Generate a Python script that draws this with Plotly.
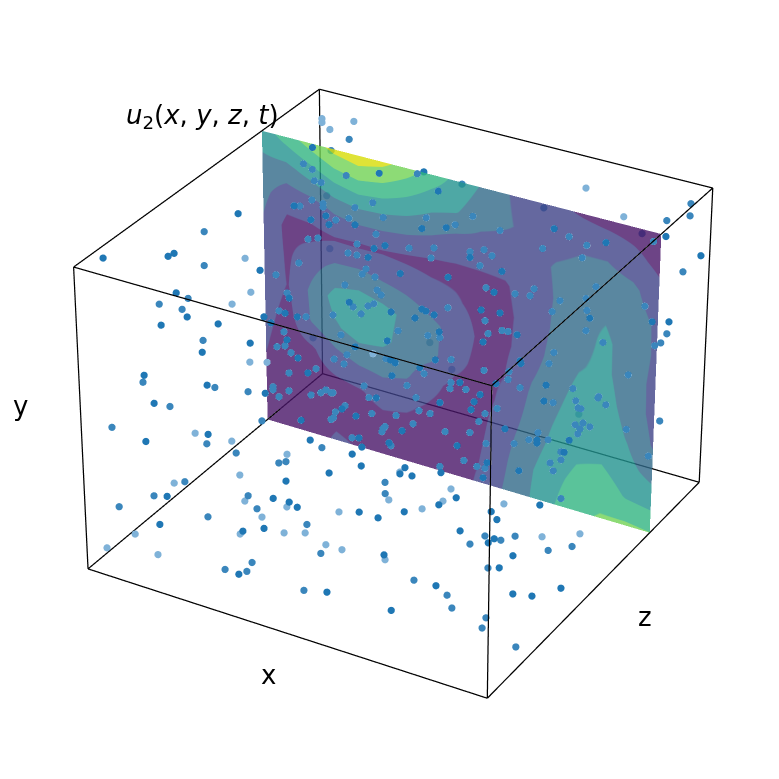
import plotly.graph_objects as go

# Scatter cloud: sample positions in unit coordinates
pt_x = [.020,.118,.120,.080,.130,.117,.056,.272,.082,.189,.139,.118,.136,.228,.070,.175,.279,.161,.345,.368,.385,.030,.030,.051,.138,.102,.114,.137,.142,.160,.065,.147,.199,.140,.164,.164,.268,.254,.288,.209,.185,.186,.096,.209,.199,.227,.369,.243,.383,.413,.275,.308,.267,.424,.269,.109,
.261,.115,.310,.138,.404,.378,.460,.442,.225,.293,.247,.320,.430,.547,.231,.342,.487,.525,.503,.615,.313,.276,.441,.425,.398,.461,.264,.287,.422,.465,.541,.629,.576,.596,.334,.324,.525,.357,.577,.718,.620,.303,.374,.396,.615,.732,.469,.336,.374,.389,.368,.572,.624,.634,.553,.745,
.790,.665,.630,.646,.462,.700,.340,.537,.567,.665,.699,.714,.609,.384,.794,.566,.652,.272,.367,.245,.096,.438,.334,.466,.663,.736,.618,.722,.562,.442,.699,.299,.359,.266,.462,.655,.750,.249,.249,.380,.265,.264,.310,.335,.336,.349,.354,.384,.385,.391,.397,.545,.579,.456,.422,.446,
.617,.465,.519,.542,.561,.526,.569,.510,.505,.514,.691,.589,.770,.649,.629,.627,.817,.666,.865,.851,.844,.714,.710,.699,.880,.748,.733,.892,.750,.823,.718,.750,.905,.770,.896,.670,.671,.548,.450,.598,.605,.490,.397,.593,.615,.195,.329,.323,.548,.453,.455,.721,.709,.738,.796,.568,
.580,.496,.598,.844,.600,.814,.581,.420,.460,.292,.480,.415,.633,.731,.679,.264,.408,.442,.346,.388,.453,.494,.513,.705,.591,.865,.823,.927,.732,.930,.848,.935,.865,.932,.878,.948,.732,.842,.734,.250,.088,.127,.096,.260,.175,.222,.150,.123,.052,.125,.067,.259,.163,.086,.213,.231,
.144,.060,.142,.100,.175,.048,.213,.280,.207,.315,.167,.046,.257,.367,.039,.132,.319,.363,.362,.367,.506,.588,.936,.878,.839,.932,.944,.917,.948,.981,.960,.974,.824,.847,.929,.931,.980,.942,.994,.938,.858,.851,.844,.842,.839,.749,.845,.838,.842,.876,.866,.807,.909,.920,.929,.829,
.840,.834,.842,.873,.807,.792,.791,.905,.905,.776,.916,.711,.816,.968,.967,.940,.901,.968,.987,.988,.965,.659,.748,.785,.828,.874,.721,.818,.853,.723,.687,.724,.850,.787,.972,.789,.853,.931,.962,.974,.951,.937,.852,.874,.999,.853,.806,.805,.893,.895,.938,.767,.903,.834,.868]
pt_y = [.987,.966,.964,.911,.951,.850,.693,.902,.600,.924,.813,.837,.789,.874,.593,.841,.845,.671,.795,.875,.862,.933,.920,.903,.996,.894,.934,.923,.887,.887,.705,.836,.929,.837,.818,.806,.908,.914,.898,.790,.766,.746,.557,.744,.750,.700,.872,.684,.854,.853,.638,.618,.636,.822,.590,.313,
.597,.951,.968,.932,.995,.949,.960,.895,.932,.865,.833,.825,.862,.907,.792,.904,.918,.910,.864,.884,.779,.745,.895,.892,.762,.785,.723,.724,.874,.765,.788,.898,.807,.794,.719,.698,.883,.700,.767,.897,.880,.679,.675,.679,.732,.872,.845,.630,.647,.660,.631,.851,.854,.851,.681,.870,
.877,.863,.853,.672,.609,.847,.576,.621,.625,.649,.672,.674,.823,.360,.837,.827,.817,.555,.532,.282,.339,.756,.505,.556,.812,.823,.597,.819,.542,.288,.592,.472,.498,.485,.717,.768,.594,.458,.448,.646,.424,.430,.414,.431,.428,.423,.425,.398,.387,.395,.411,.632,.622,.574,.461,.444,
.682,.411,.486,.454,.431,.428,.417,.398,.389,.396,.618,.432,.726,.422,.538,.517,.808,.529,.788,.760,.732,.467,.453,.425,.802,.567,.478,.649,.422,.622,.380,.373,.614,.375,.562,.355,.585,.376,.364,.572,.545,.536,.337,.531,.501,.110,.290,.297,.465,.414,.110,.538,.513,.518,.538,.302,
.283,.114,.123,.490,.110,.469,.118,.343,.347,.077,.338,.096,.385,.412,.385,.073,.252,.193,.081,.084,.085,.085,.168,.288,.077,.405,.257,.479,.126,.440,.280,.394,.244,.394,.215,.304,.156,.259,.130,.756,.376,.661,.600,.653,.507,.471,.578,.490,.474,.442,.256,.491,.326,.154,.287,.349,
.100,.136,.230,.207,.278,.191,.153,.210,.091,.194,.194,.053,.069,.240,.075,.047,.090,.103,.087,.109,.084,.143,.362,.234,.071,.120,.125,.144,.300,.087,.193,.147,.160,.142,.145,.127,.039,.261,.270,.339,.330,.354,.331,.358,.312,.223,.400,.400,.439,.385,.418,.446,.651,.459,.450,.288,
.279,.294,.270,.202,.334,.366,.369,.536,.526,.377,.509,.926,.879,.962,.922,.933,.901,.927,.978,.786,.749,.902,.936,.923,.910,.935,.862,.866,.784,.755,.738,.745,.769,.739,.763,.729,.731,.823,.670,.636,.562,.526,.664,.607,.643,.856,.613,.589,.827,.819,.523,.534,.687,.477,.423]
pt_z = [.080,.180,.200,.380,.440,.320,.580,.300,.560,.100,.220,.140,.200,.080,.500,.060,.120,.240,.140,.160,.160,.960,.960,.960,.740,.880,.740,.740,.740,.740,.920,.720,.560,.680,.740,.740,.580,.540,.560,.720,.640,.680,.880,.560,.480,.480,.260,.420,.220,.220,.480,.540,.400,.160,.400,.780,
.380,.960,.740,.900,.745,.820,.740,.880,.740,.740,.740,.740,.740,.740,.740,.580,.620,.660,.740,.740,.720,.700,.540,.520,.720,.720,.680,.680,.500,.700,.740,.580,.740,.740,.640,.640,.460,.640,.720,.560,.500,.600,.620,.600,.680,.500,.340,.580,.580,.580,.560,.340,.380,.380,.620,.420,
.420,.360,.340,.620,.560,.320,.520,.560,.560,.600,.600,.600,.260,.840,.340,.200,.200,.420,.500,.820,.600,.180,.500,.500,.200,.240,.520,.200,.500,.840,.520,.480,.500,.420,.180,.200,.540,.380,.380,.140,.420,.380,.440,.440,.460,.460,.460,.420,.400,.400,.440,.180,.180,.160,.480,.460,
.200,.440,.500,.500,.480,.440,.440,.420,.420,.400,.180,.480,.200,.440,.500,.500,.200,.500,.200,.200,.200,.500,.480,.460,.240,.540,.520,.260,.440,.180,.400,.400,.160,.400,.160,.380,.160,.380,.380,.160,.160,.140,.340,.140,.140,.520,.300,.280,.120,.100,.580,.140,.140,.140,.160,.320,
.300,.460,.560,.140,.520,.120,.460,.100,.100,.360,.100,.380,.100,.120,.100,.300,.080,.200,.260,.280,.260,.260,.140,.080,.280,.120,.240,.140,.560,.160,.260,.140,.300,.120,.220,.140,.160,.060,.060,.100,.540,.060,.100,.100,.260,.320,.060,.160,.040,.060,.340,.100,.240,.460,.280,.360,
.400,.260,.180,.120,.060,.060,.160,.220,.320,.200,.040,.120,.220,.060,.020,.080,.060,.100,.080,.040,.080,.040,.340,.340,.540,.540,.480,.420,.200,.360,.180,.240,.140,.120,.120,.100,.160,.900,.740,.740,.720,.700,.700,.680,.700,.880,.700,.700,.680,.760,.740,.640,.400,.500,.460,.640,
.620,.580,.580,.560,.620,.600,.560,.380,.380,.520,.280,.960,.940,.960,.960,.900,.860,.840,.740,.980,.940,.860,.740,.740,.740,.740,.740,.740,.740,.700,.680,.680,.700,.700,.740,.660,.700,.560,.800,.860,.900,.900,.700,.740,.740,.380,.640,.620,.320,.320,.740,.560,.420,.680,.740]
# depth-shade class of every sample (d = near, m = middle, l = far), same order
pt_shade = ("dddmdmldld" "mmmdlddmdd" "dllldmmmmm" "lmdmmmdddm" "mmlmmmdmdd" "mmmdml"
            "mldmmddmmm" "mmmmmdddmm" "mmddmmmmdm" "mdmmmmdmmd" "dmmmmddmmm" "mdddmd"
            "dddmmdmmmm" "mmdldddmml" "ldmmddmdml" "mmmmddmmmd" "mmmmmmmmmm" "mdddmm"
            "dmmmmmmmmm" "dmdmmmdmdd" "dmmmdmmdmd" "mmdmdmdmmd" "ddmddlmmdd" "lddddm"
            "mlldldlddl" "dldddldmll" "llmdldmdld" "mdmdmdmddd" "ldmdmmdmmd" "ldmlmm"
            "llmmdmmmlm" "dlldllmmmd" "mddmllmmdd" "ddmmmmmmmm" "mmmmmlmmmm" "mmdddm"
            "mmmmmmmddm" "dllmmmmdmd" "mmdmmdmmmm" "mmmmmmmddd" "mmmmmdmmdd" "mmdmm")

# Field sampled on the z = 0.75 plane (rows top to bottom, columns left to right)
levels = [[3.4,4.45,5.4,6.3,6.7,6.3,5.5,4.6,3.7,2.9,2.05,1.6,1.2,.85,.6,.5,.3],
[2.8,2.7,3.4,4.2,4.6,4.4,3.9,3.3,3.05,2.35,2.1,1.75,1.6,1.85,1.8,1.3,.7],
[2.28,1.4,1.6,2.2,2.5,2.45,2.3,2.0,1.6,1.55,1.45,1.6,2.1,2.3,2.4,2.2,1.4],
[1.9,.7,.7,.9,.85,.9,.8,.7,.75,.8,.9,1.4,2.05,2.75,2.85,2.45,1.85],
[1.7,.85,1.6,2.25,2.3,2.0,1.75,1.4,1.1,.7,.8,1.3,2.15,2.65,3.15,2.55,1.85],
[1.5,.95,2.2,3.35,3.6,3.3,2.75,2.2,1.7,.8,.8,1.45,2.35,2.9,3.2,2.45,1.75],
[1.3,.7,2.1,2.85,3.4,3.2,2.6,2.3,1.3,.7,.95,1.9,2.6,3.25,3.4,2.6,1.7],
[1.1,.5,.85,1.7,2.15,2.3,2.1,1.3,.7,.6,1.2,2.15,2.9,3.55,3.6,2.9,1.9],
[.9,.4,.5,.7,.9,1.3,1.15,.8,.5,.7,1.6,2.4,3.2,3.8,3.9,3.3,2.65],
[.8,.4,.4,.6,.5,.6,.6,.5,.5,.9,1.8,2.75,3.6,4.3,4.6,3.9,3.7],
[.7,.5,.5,1.15,.9,.5,.5,.5,.5,1.1,2.0,2.85,3.85,4.75,5.05,5.15,5.0]]
grid_x = [i / 16 for i in range(17)]
grid_y = [1 - j / 10 for j in range(11)]
plane_z = 0.75
band_colors = ["rgb(72,21,104)", "rgb(62,66,135)", "rgb(49,105,136)", "rgb(34,146,142)", "rgb(49,180,129)", "rgb(112,210,84)", "rgb(215,220,5)"]
shade_colors = {"d": "#1f77b4", "m": "#3a86bc", "l": "#7fb2d8"}

scale = []
for k, col in enumerate(band_colors):
    scale += [[k / 7, col], [(k + 1) / 7, col]]

edge_x, edge_y, edge_z = [], [], []
for (p0, p1) in [((0,0,0),(1,0,0)),((1,0,0),(1,1,0)),((1,1,0),(0,1,0)),((0,1,0),(0,0,0)),
                 ((0,0,1),(1,0,1)),((1,0,1),(1,1,1)),((1,1,1),(0,1,1)),((0,1,1),(0,0,1)),
                 ((0,0,0),(0,0,1)),((1,0,0),(1,0,1)),((1,1,0),(1,1,1)),((0,1,0),(0,1,1))]:
    edge_x += [p0[0], p1[0], None]; edge_y += [p0[1], p1[1], None]; edge_z += [p0[2], p1[2], None]

colors = [shade_colors[s] for s in pt_shade]
colors += ["#3a86bc"] * (len(pt_x) - len(colors))

fig = go.Figure()
fig.add_trace(go.Surface(x=grid_x, y=[[plane_z] * 17] * 11, z=[[g] * 17 for g in grid_y],
    surfacecolor=levels, cmin=0, cmax=7, colorscale=scale, showscale=False, opacity=0.8,
    lighting=dict(ambient=1, diffuse=0, specular=0, roughness=1, fresnel=0), hoverinfo="skip"))
fig.add_trace(go.Scatter3d(x=edge_x, y=edge_y, z=edge_z, mode="lines", line=dict(color="black", width=2.5), hoverinfo="skip"))
fig.add_trace(go.Scatter3d(x=pt_x, y=pt_z, z=pt_y, mode="markers",
    marker=dict(size=4.2, color=colors, line=dict(width=0)), hoverinfo="skip"))

D = 8.4; S = 457.4
rv = (.866, .5, 0); uv = (-.25, .433, .866); ev = (.433, -.75, .5)
sx, sy = -1.8 / S, -18.4 / S
delta = [sx * rv[i] + sy * uv[i] for i in range(3)]
ax = dict(visible=False, range=[0, 1], autorange=False)
lab = dict(xref="paper", yref="paper", showarrow=False, xanchor="center", yanchor="middle", font=dict(size=26))
fig.update_layout(width=779, height=779, margin=dict(l=0, r=0, t=0, b=0), paper_bgcolor="white", showlegend=False,
    font=dict(family="DejaVu Sans", color="black"),
    scene=dict(domain=dict(x=[0, 1], y=[0, 1]), xaxis=ax, yaxis=ax, zaxis=ax, aspectmode="manual",
        aspectratio=dict(x=1, y=1, z=.75), bgcolor="white",
        camera=dict(up=dict(x=0, y=0, z=1), center=dict(x=delta[0], y=delta[1], z=delta[2]),
            eye=dict(x=D*ev[0]+delta[0], y=D*ev[1]+delta[1], z=D*ev[2]+delta[2]))),
    annotations=[
        dict(text="<i>u</i><sub>2</sub>(<i>x</i>, <i>y</i>, <i>z</i>, <i>t</i>)", x=194.5/779, y=1-108/779, **lab),
        dict(text="x", x=260/779, y=1-667/779, **lab),
        dict(text="y", x=12/779, y=1-398/779, **lab),
        dict(text="z", x=637/779, y=1-609/779, **lab),
    ])
post = "var g=document.querySelector('.js-plotly-plot');var s=g._fullLayout.scene._scene;s.glplot.fovy=0.2021;s.glplot.redraw();"
fig.write_html("out.html", post_script=post)
